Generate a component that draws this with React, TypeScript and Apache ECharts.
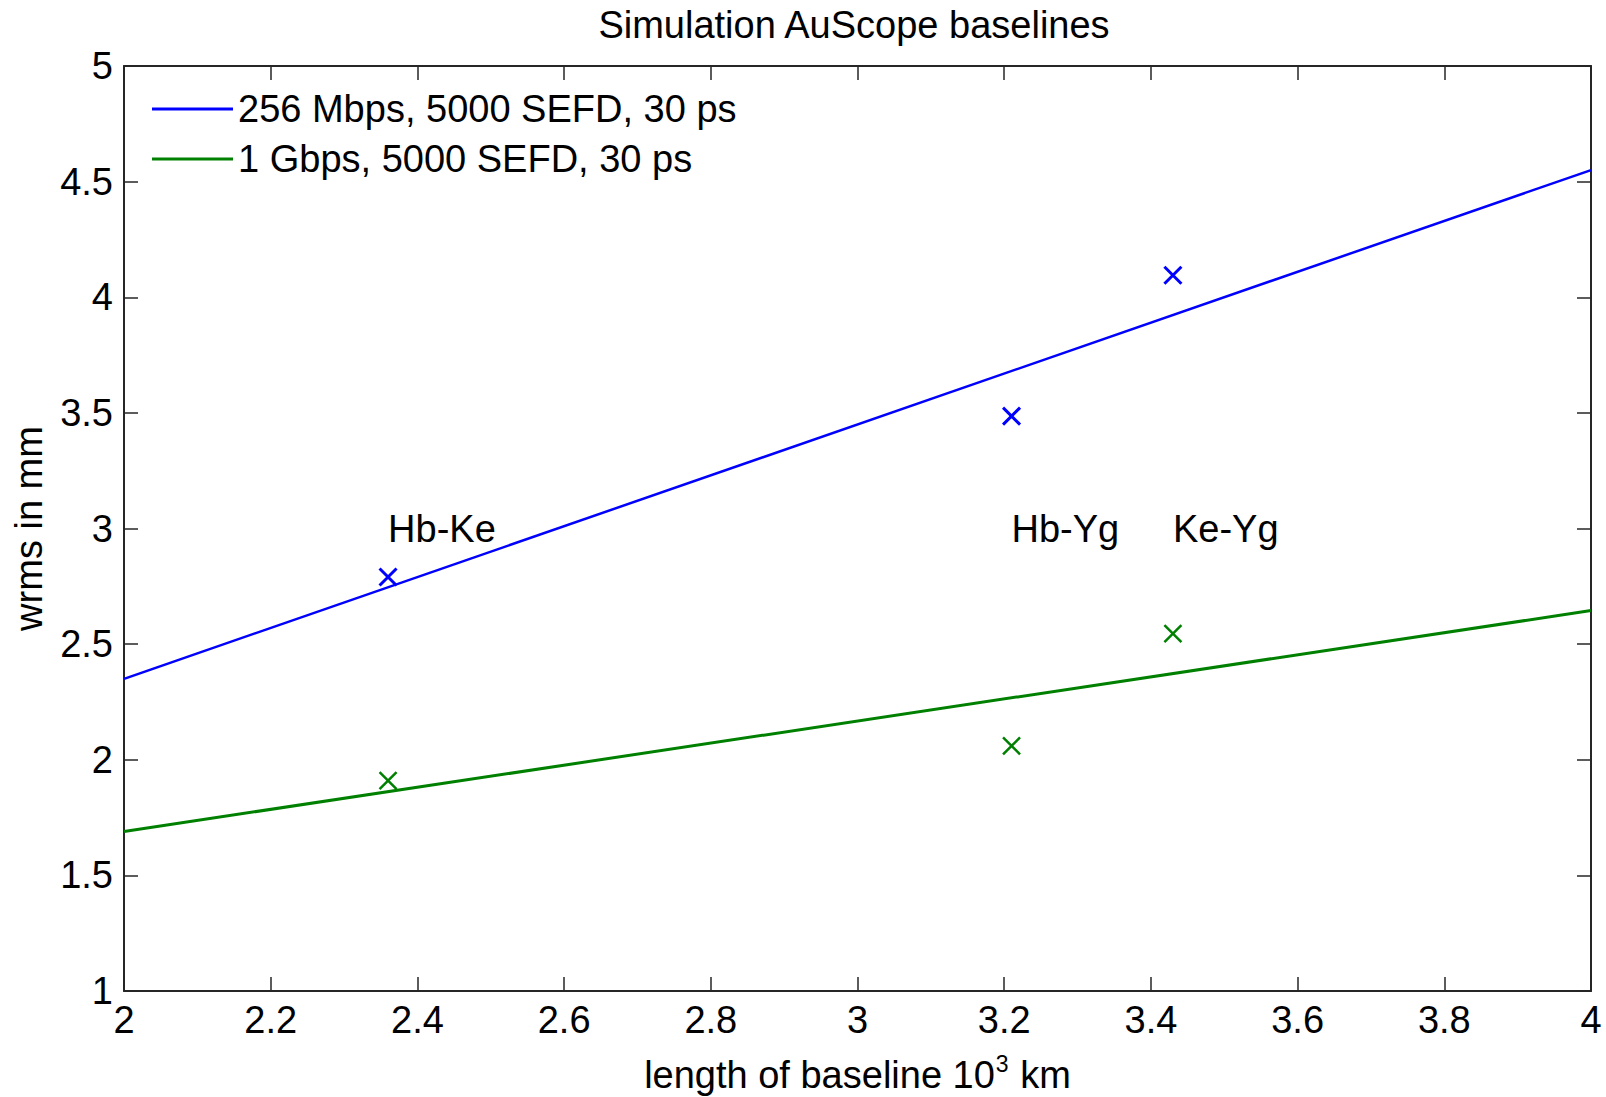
import React, { useEffect, useRef } from "react";
import * as echarts from "echarts";

// ---- data ----
const fitX = [2, 4];
const fit256 = [2.35, 4.55];
const fit1G = [1.69, 2.645];
const baselineLength = [2.36, 3.21, 3.43];
const wrms256 = [2.79, 3.486, 4.095];
const wrms1G = [1.91, 2.06, 2.545];
const baselineNames = ["Hb-Ke", "Hb-Yg", "Ke-Yg"];
const nameLabelY = [3, 3, 3];
const seriesNames = ["256 Mbps, 5000 SEFD, 30 ps", "1 Gbps, 5000 SEFD, 30 ps"];
const seriesColors = ["#0000ff", "#008000"];

const FONT = "'Liberation Sans', Arial, Helvetica, sans-serif";
const FS = 38;
const FRAME = "#262626";
const CROSS = "path://M0,0L10,10M10,0L0,10";

export default function App() {
  const ref = useRef<HTMLDivElement>(null);

  useEffect(() => {
    if (!ref.current) return;
    const chart = echarts.init(ref.current, undefined, { renderer: "svg" });

    const axisCommon = {
      type: "value" as const,
      axisLine: { show: true, onZero: false, lineStyle: { color: FRAME, width: 2 } },
      axisTick: { show: true, inside: true, length: 14, lineStyle: { color: FRAME, width: 1.5 } },
      splitLine: { show: false },
    };

    const option: any = {
      animation: false,
      backgroundColor: "#ffffff",
      textStyle: { fontFamily: FONT },
      title: {
        text: "Simulation AuScope baselines",
        left: 854,
        textAlign: "center",
        top: 6,
        padding: 0,
        textStyle: { fontFamily: FONT, fontSize: FS, fontWeight: "normal", color: "#000" },
      },
      legend: {
        data: seriesNames.map((n) => ({ name: n, icon: "rect" })),
        orient: "vertical",
        left: 152,
        top: 90,
        padding: 0,
        itemGap: 12,
        itemWidth: 81,
        itemHeight: 3,
        textStyle: { fontFamily: FONT, fontSize: FS, color: "#000" },
        selectedMode: false,
      },
      grid: {
        left: 124,
        right: 15,
        top: 66,
        bottom: 106,
        containLabel: false,
        outerBoundsMode: "none",
      },
      xAxis: [
        {
          ...axisCommon,
          min: 2,
          max: 4,
          interval: 0.2,
          position: "bottom",
          axisLabel: { show: true, fontFamily: FONT, fontSize: FS, color: "#000", margin: 10 },
          name: "length of baseline 10{sup|3} km",
          nameLocation: "middle",
          nameGap: 61,
          nameTextStyle: {
            fontFamily: FONT,
            fontSize: FS,
            color: "#000",
            lineHeight: 46,
            rich: {
              sup: { fontFamily: FONT, fontSize: 23, color: "#000", lineHeight: 23, verticalAlign: "top", padding: [0, 1, 0, 1] },
            },
          },
        },
        {
          ...axisCommon,
          min: 2,
          max: 4,
          interval: 0.2,
          position: "top",
          axisLabel: { show: false },
        },
      ],
      yAxis: [
        {
          ...axisCommon,
          min: 1,
          max: 5,
          interval: 0.5,
          position: "left",
          axisLabel: { show: true, fontFamily: FONT, fontSize: FS, color: "#000", margin: 11 },
          name: "wrms in mm",
          nameLocation: "middle",
          nameGap: 76,
          nameRotate: 90,
          nameTextStyle: { fontFamily: FONT, fontSize: FS, color: "#000" },
        },
        {
          ...axisCommon,
          min: 1,
          max: 5,
          interval: 0.5,
          position: "right",
          axisLabel: { show: false },
        },
      ],
      series: [
        {
          name: seriesNames[0],
          type: "line",
          data: fitX.map((x, i) => [x, fit256[i]]),
          symbol: "none",
          lineStyle: { color: seriesColors[0], width: 2.5 },
          itemStyle: { color: seriesColors[0] },
          silent: true,
          z: 3,
        },
        {
          name: seriesNames[1],
          type: "line",
          data: fitX.map((x, i) => [x, fit1G[i]]),
          symbol: "none",
          lineStyle: { color: seriesColors[1], width: 3 },
          itemStyle: { color: seriesColors[1] },
          silent: true,
          z: 3,
        },
        {
          name: "markers256",
          type: "scatter",
          data: baselineLength.map((x, i) => [x, wrms256[i]]),
          symbol: CROSS,
          symbolSize: 17,
          itemStyle: { color: "rgba(0,0,0,0)", borderColor: seriesColors[0], borderWidth: 3, opacity: 1 },
          silent: true,
          z: 4,
        },
        {
          name: "markers1G",
          type: "scatter",
          data: baselineLength.map((x, i) => [x, wrms1G[i]]),
          symbol: CROSS,
          symbolSize: 17,
          itemStyle: { color: "rgba(0,0,0,0)", borderColor: seriesColors[1], borderWidth: 2.5, opacity: 1 },
          silent: true,
          z: 4,
        },
        {
          name: "baselineLabels",
          type: "scatter",
          data: baselineLength.map((x, i) => ({ value: [x, nameLabelY[i]], name: baselineNames[i] })),
          symbol: "circle",
          symbolSize: 0.01,
          itemStyle: { color: "rgba(0,0,0,0)", opacity: 1 },
          label: {
            show: true,
            position: "right",
            distance: 0,
            formatter: "{b}",
            fontFamily: FONT,
            fontSize: FS,
            color: "#000000",
            opacity: 1,
            textBorderWidth: 0,
          },
          silent: true,
          z: 5,
        },
      ],
    };

    chart.setOption(option);
    return () => {
      chart.dispose();
    };
  }, []);

  return (
    <div
      ref={ref}
      style={{ position: "fixed", left: 0, top: 0, width: 1606, height: 1097, background: "#fff" }}
    />
  );
}
